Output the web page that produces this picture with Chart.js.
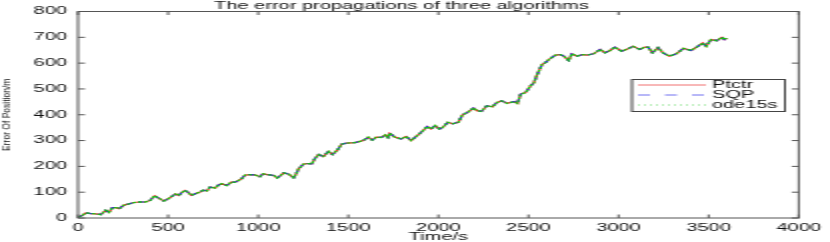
<!DOCTYPE html>
<html lang="en">
<head>
    <meta charset="UTF-8">
    <title>The error propagations of three algorithms</title>
    <script src="https://cdn.jsdelivr.net/npm/chart.js"></script>
    <style>
        html, body { margin: 0; padding: 0; background: #fff; overflow: hidden; }
        /* the reference figure is stretched 2x horizontally, so draw at half width and stretch */
        #wrap { width: 415px; height: 242px; transform: scaleX(2); transform-origin: 0 0; }
        canvas { display: block; }
    </style>
</head>
<body>
    <div id="wrap"><canvas id="chart" width="415" height="242"></canvas></div>

    <script>
        const timeS = [0, 20, 44, 70, 100, 127, 154, 172, 191, 210, 228, 256, 285, 311, 340, 375, 400, 425, 450, 476,
            495, 513, 541, 559, 575, 592, 610, 629, 655, 678, 697, 715, 734, 761, 780, 798, 826, 853, 870, 890,
            908, 927, 949, 982, 1009, 1027, 1050, 1086, 1105, 1125, 1142, 1169, 1197, 1210, 1224, 1252, 1275, 1298, 1315, 1335,
            1362, 1390, 1412, 1441, 1463, 1490, 1537, 1560, 1583, 1611, 1633, 1656, 1684, 1706, 1720, 1730, 1757, 1794, 1821, 1849,
            1877, 1905, 1938, 1960, 1982, 2006, 2024, 2052, 2080, 2111, 2134, 2162, 2195, 2217, 2239, 2269, 2300, 2324, 2350, 2383,
            2420, 2439, 2457, 2484, 2512, 2530, 2549, 2576, 2594, 2613, 2650, 2677, 2696, 2723, 2741, 2769, 2797, 2824, 2861, 2898,
            2925, 2953, 2980, 3017, 3050, 3081, 3118, 3145, 3164, 3188, 3219, 3247, 3283, 3320, 3361, 3403, 3440, 3467, 3486, 3513,
            3545, 3574, 3587, 3600];

        const ptctr = [3, 8, 20, 17, 16, 13, 30, 22, 40, 40, 36, 50, 55, 60, 62, 62, 68, 86, 76, 66,
            72, 80, 93, 87, 98, 107, 100, 88, 95, 101, 108, 105, 120, 116, 128, 133, 126, 140, 138, 145,
            152, 166, 168, 167, 160, 171, 168, 165, 155, 165, 175, 170, 156, 170, 190, 209, 211, 210, 230, 246,
            238, 258, 246, 264, 286, 290, 292, 296, 300, 313, 302, 313, 312, 322, 312, 328, 314, 306, 316, 300,
            316, 332, 354, 345, 358, 345, 351, 371, 365, 371, 400, 409, 426, 415, 413, 435, 431, 447, 454, 444,
            451, 444, 480, 486, 512, 524, 557, 595, 602, 614, 631, 633, 627, 610, 636, 627, 633, 631, 636, 653,
            640, 649, 662, 646, 655, 665, 653, 662, 662, 640, 660, 640, 627, 636, 657, 649, 665, 678, 665, 691,
            687, 700, 691, 697];

        // the three curves lie on top of each other at this scale
        const sqp = ptctr.slice();
        const ode15s = ptctr.slice();

        const seriesNames = ['Ptctr', 'SQP', 'ode15s'];
        const xTicks = [0, 500, 1000, 1500, 2000, 2500, 3000, 3500, 4000];
        const yTicks = [0, 100, 200, 300, 400, 500, 600, 700, 800];

        const styles = [
            { color: '#ff2020', dash: [], width: 1.2, order: 3 },
            { color: '#2020ff', dash: [3, 3], width: 1.2, order: 2 },
            { color: '#10c810', dash: [2, 1], width: 1.3, order: 1 }
        ];
        const legendColors = ['#f07070', '#7070f0', '#80e080'];
        const tickFont = { family: "'Liberation Sans', Arial, sans-serif", size: 10 };

        function toPoints(vals) {
            return vals.map((v, i) => ({ x: timeS[i], y: v }));
        }

        // box, inward ticks, legend and y label drawn the MATLAB way
        const matlabFrame = {
            id: 'matlabFrame',
            afterDatasetsDraw(chart) {
                const ctx = chart.ctx;
                const a = chart.chartArea;
                const xs = chart.scales.x, ys = chart.scales.y;
                ctx.save();
                ctx.strokeStyle = '#555';
                ctx.lineWidth = 1;
                ctx.setLineDash([]);
                ctx.strokeRect(a.left, a.top, a.right - a.left, a.bottom - a.top);
                ctx.beginPath();
                xTicks.forEach(v => {
                    const px = xs.getPixelForValue(v);
                    ctx.moveTo(px, a.bottom); ctx.lineTo(px, a.bottom - 3.5);
                    ctx.moveTo(px, a.top); ctx.lineTo(px, a.top + 3.5);
                });
                yTicks.forEach(v => {
                    const py = ys.getPixelForValue(v);
                    ctx.moveTo(a.left, py); ctx.lineTo(a.left + 3.5, py);
                    ctx.moveTo(a.right, py); ctx.lineTo(a.right - 3.5, py);
                });
                ctx.stroke();

                // legend
                const lx = 316, ly = 79.5, lw = 76.5, lh = 32;
                ctx.fillStyle = '#fff';
                ctx.fillRect(lx, ly, lw, lh);
                ctx.strokeStyle = '#444';
                ctx.strokeRect(lx, ly, lw, lh);
                ctx.font = "10px 'Liberation Sans', Arial, sans-serif";
                ctx.textBaseline = 'middle';
                ctx.textAlign = 'left';
                const legendDash = [[], [6, 7.5], [1, 2]];
                seriesNames.forEach((name, i) => {
                    const y = ly + 5.5 + i * 10;
                    ctx.strokeStyle = legendColors[i];
                    ctx.setLineDash(legendDash[i]);
                    ctx.beginPath();
                    ctx.moveTo(lx + 3, y); ctx.lineTo(lx + 37, y);
                    ctx.stroke();
                    ctx.fillStyle = '#111';
                    ctx.fillText(name, lx + 40, y + 0.5);
                });

                // y axis label, condensed like the reference
                ctx.setLineDash([]);
                ctx.translate(3.2, (a.top + a.bottom) / 2);
                ctx.scale(0.7, 1);
                ctx.rotate(-Math.PI / 2);
                ctx.font = "8.5px 'Liberation Sans', Arial, sans-serif";
                ctx.textAlign = 'center';
                ctx.fillStyle = '#111';
                ctx.fillText('Error Of Position/m', 0, 0);
                ctx.restore();
            }
        };

        new Chart(document.getElementById('chart'), {
            type: 'line',
            data: {
                datasets: [ptctr, sqp, ode15s].map((vals, i) => ({
                    label: seriesNames[i],
                    data: toPoints(vals),
                    borderColor: styles[i].color,
                    borderDash: styles[i].dash,
                    borderWidth: styles[i].width,
                    pointRadius: 0,
                    tension: 0,
                    fill: false,
                    order: styles[i].order
                }))
            },
            options: {
                responsive: false,
                animation: false,
                events: [],
                layout: { padding: { left: 0, right: 13.5, top: 0, bottom: 0 } },
                plugins: {
                    legend: { display: false },
                    tooltip: { enabled: false },
                    title: {
                        display: true,
                        text: 'The error propagations of three algorithms',
                        color: '#111',
                        font: { family: tickFont.family, size: 10, weight: 'normal', lineHeight: 1 },
                        padding: { top: 0, bottom: 0.7 }
                    }
                },
                scales: {
                    x: {
                        type: 'linear',
                        min: 0,
                        max: 4000,
                        afterBuildTicks: s => { s.ticks = xTicks.map(v => ({ value: v })); },
                        afterFit: s => { s.height = 24; },
                        grid: { display: false, drawTicks: false },
                        border: { display: false },
                        ticks: {
                            color: '#111', font: tickFont, padding: 4.5, maxRotation: 0, autoSkip: false,
                            callback: v => String(v)
                        },
                        title: {
                            display: true,
                            text: 'Time/s',
                            color: '#111',
                            font: { family: tickFont.family, size: 10, lineHeight: 1 },
                            padding: { top: 0, bottom: 0 }
                        }
                    },
                    y: {
                        min: 0,
                        max: 800,
                        afterBuildTicks: s => { s.ticks = yTicks.map(v => ({ value: v })); },
                        afterFit: s => { s.width = 39; },
                        grid: { display: false, drawTicks: false },
                        border: { display: false },
                        ticks: { color: '#111', font: tickFont, padding: 5.5, callback: v => String(v) }
                    }
                }
            },
            plugins: [matlabFrame]
        });
    </script>
</body>
</html>
